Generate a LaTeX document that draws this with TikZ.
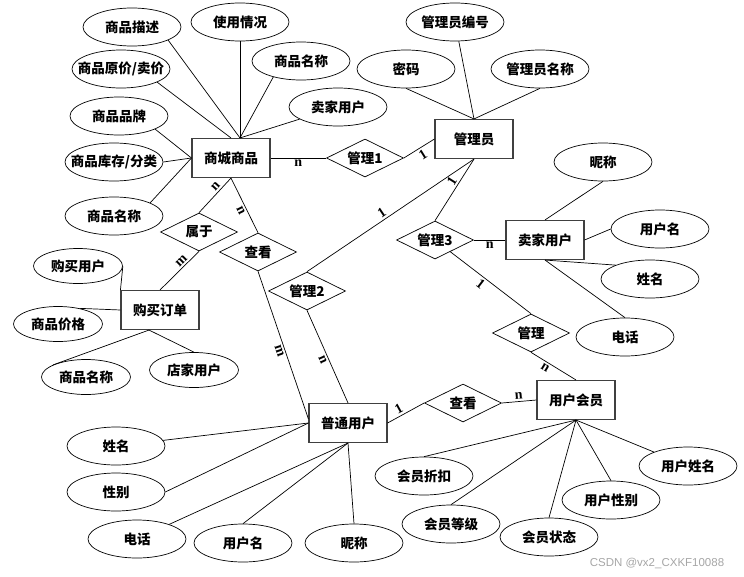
\documentclass[tikz,border=0pt]{standalone}
\usepackage{fontspec}
\newfontfamily\cjk{Noto Sans CJK SC}
\newfontfamily\numfont{Liberation Serif}
\newfontfamily\wmfont{Liberation Sans}
\usetikzlibrary{shapes.geometric}
\tikzset{
	ernode/.style = {font=\cjk\bfseries\fontsize{13.5}{16}\selectfont, text centered, inner sep=0pt},
	entity/.style = {rectangle, ernode, minimum width=78pt, minimum height=39pt, draw=black!75, line width=1.1pt},
	relation/.style = {diamond, ernode, aspect=2, minimum width=77pt, minimum height=38pt, draw=black, line width=.7pt},
	attr/.style = {ellipse, ernode, minimum width=98pt, minimum height=38pt, draw=black, line width=.7pt},
	smallattr/.style = {attr, minimum width=89pt, minimum height=35pt},
	link/.style = {draw, line width=.7pt},
	card/.style = {font=\numfont\bfseries\fontsize{14}{14}\selectfont, inner sep=2pt}
}
\newcommand{\wide}[1]{\makebox[0pt]{#1}}

\begin{document}
\begin{tikzpicture}[node distance=80pt]
		\useasboundingbox (0,0) rectangle (744pt,-576pt);
		%实体与联系
		\node (sp) [entity] at (231pt,-158pt) {商城商品};
		\node (gl1) [relation, right of=sp, xshift=54pt] {管理1};
		\node (gly) [entity, right of=gl1, xshift=29pt, yshift=19pt] {管理员};
		\node (gl3) [relation, below of=gly, xshift=-39pt, yshift=-21pt] {管理3};
		\node (mj) [entity, right of=gl3, xshift=30pt] {卖家用户};
		\node (gl) [relation, below of=gl3, xshift=96pt, yshift=-13pt] {管理};
		\node (hy) [entity, below of=gl, xshift=45pt, yshift=13pt] {用户会员};
		\node (ck2) [relation, left of=hy, xshift=-33pt, yshift=-3pt] {查看};
		\node (pt) [entity, left of=ck2, xshift=-35pt, yshift=-20pt] {普通用户};
		\node (gl2) [relation, above of=pt, xshift=-41pt, yshift=52pt] {管理2};
		\node (sy) [relation, below of=sp, xshift=-32pt, yshift=6pt] {属于};
		\node (ck1) [relation, below of=sp, xshift=27pt, yshift=-14pt] {查看};
		\node (dd) [entity, below of=sy, xshift=-39pt, yshift=2pt] {购买订单};

		%商城商品的属性
		\node (spms) [attr, above of=sp, xshift=-99pt, yshift=51pt] {商品描述};
		\node (syqk) [attr, above of=sp, xshift=9pt, yshift=56pt] {使用情况};
		\node (spmc1) [attr, above of=sp, xshift=70pt, yshift=17pt] {商品名称};
		\node (mjyh) [attr, above of=sp, xshift=107pt, yshift=-29pt] {卖家用户};
		\node (spyj) [attr, left of=sp, xshift=-30pt, yshift=89pt] {\wide{商品原价/卖价}};
		\node (sppp) [attr, left of=sp, xshift=-32pt, yshift=42pt] {商品品牌};
		\node (spkc) [attr, left of=sp, xshift=-37pt, yshift=-4pt] {\wide{商品库存/分类}};
		\node (spmc2) [attr, left of=sp, xshift=-37pt, yshift=-58pt] {商品名称};

		%管理员的属性
		\node (glybh) [attr, above of=gly, xshift=-19pt, yshift=37pt] {管理员编号};
		\node (mm) [attr, above of=gly, xshift=-68pt, yshift=-10pt] {密码};
		\node (glymc) [attr, above of=gly, xshift=66pt, yshift=-10pt] {管理员名称};

		%卖家用户的属性
		\node (nc1) [attr, above of=mj, xshift=58pt, yshift=-2pt] {昵称};
		\node (yhm1) [attr, right of=mj, xshift=35pt, yshift=11pt] {用户名};
		\node (xm1) [attr, right of=mj, xshift=25pt, yshift=-39pt] {姓名};
		\node (dh1) [attr, below of=mj, xshift=80pt, yshift=-17pt] {电话};

		%购买订单的属性
		\node (gmyh) [smallattr, left of=dd, xshift=-2pt, yshift=44pt] {购买用户};
		\node (spjg) [smallattr, left of=dd, xshift=-22pt, yshift=-14pt] {商品价格};
		\node (spmc3) [smallattr, below of=dd, xshift=-74pt, yshift=13pt] {商品名称};
		\node (djyh) [smallattr, below of=dd, xshift=34pt, yshift=20pt] {店家用户};

		%普通用户的属性
		\node (xm2) [attr, left of=pt, xshift=-152pt, yshift=-23pt] {姓名};
		\node (xb) [attr, left of=pt, xshift=-152pt, yshift=-69pt] {性别};
		\node (dh2) [attr, below of=pt, xshift=-211pt, yshift=-36pt] {电话};
		\node (yhm2) [attr, below of=pt, xshift=-105pt, yshift=-40pt] {用户名};
		\node (nc2) [attr, below of=pt, xshift=6pt, yshift=-40pt] {昵称};

		%用户会员的属性
		\node (hyzk) [attr, below of=hy, xshift=-152pt, yshift=4pt] {会员折扣};
		\node (hydj) [attr, below of=hy, xshift=-125pt, yshift=-44pt] {会员等级};
		\node (hyzt) [attr, below of=hy, xshift=-27pt, yshift=-57pt] {会员状态};
		\node (yhxb) [attr, below of=hy, xshift=35pt, yshift=-20pt] {用户性别};
		\node (yhxm) [attr, below of=hy, xshift=112pt, yshift=14pt] {用户姓名};

		\node (wm) [font=\wmfont\fontsize{11.5}{12}\selectfont, text=black!35] at (657pt,-563pt) {CSDN @vx2\_CXKF10088};

		\coordinate (sptop) at ([xshift=9pt]sp.north);
		\coordinate (ddbot) at ([xshift=-11pt]dd.south);
		\coordinate (ptleft) at ([yshift=4pt]pt.west);

		%属性连线
		\path [link] (spms.-20) -- (sptop);
		\path [link] (syqk.south) -- (sptop);
		\path [link] (spmc1.210) -- (sptop);
		\path [link] (mjyh) -- (sptop);
		\path [link] (spyj.-20) -- (sp.north);
		\path [link] (sppp.-20) -- (sp.west);
		\path [link] (spkc.east) -- (sp.west);
		\path [link] (spmc2.20) -- (sp.west);
		\path [link] (glybh) -- (gly.north);
		\path [link] (mm.south) -- (gly.north);
		\path [link] (glymc.south) -- (gly.north);
		\path [link] (nc1.south) -- (mj.north);
		\path [link] (yhm1.west) -- (mj.east);
		\path [link] (xm1.158) -- (mj.south);
		\path [link] (dh1.north) -- (mj.south);
		\path [link] (gmyh.east) -- (dd.north west);
		\path [link] (spjg.36) -- (dd.west);
		\path [link] (spmc3.160) -- (ddbot);
		\path [link] (djyh.north) -- (ddbot);
		\path [link] (xm2) -- (pt.west);
		\path [link] (xb.east) -- (pt.west);
		\path [link] (dh2) -- (pt.south);
		\path [link] (yhm2.north) -- (pt.south);
		\path [link] (nc2.north) -- (pt.south);
		\path [link] (hyzk.north) -- (hy.south);
		\path [link] (hydj.north) -- (hy.south);
		\path [link] (hyzt.north) -- (hy.south);
		\path [link] (yhxb.north) -- (hy.south);
		\path [link] (yhxm) -- (hy.south);

		%联系连线
		\path [link] (sp) -- node[card, below] {n} (gl1);
		\path [link] (gl1.east) -- node[card, sloped, below] {1} (gly.west);
		\path [link] (gly.south) -- node[card, sloped, above, pos=.42] {1} (gl3.north);
		\path [link] (gly.south) -- node[card, sloped, above, pos=.53] {1} (gl2.north);
		\path [link] (gl3) -- node[card, below] {n} (mj);
		\path [link] (gl3) -- node[card, sloped, below, pos=.43] {1} (gl.north);
		\path [link] (gl.south) -- node[card, sloped, below, pos=.38] {n} (hy.north);
		\path [link] (pt.east) -- node[card, sloped, above, pos=.4] {1} (ck2.west);
		\path [link] (ck2.east) -- node[card, sloped, above] {n} (hy.west);
		\path [link] (sp.south) -- node[card, sloped, above, pos=.35] {n} (sy.north);
		\path [link] (sp.south) -- node[card, sloped, below, pos=.55] {n} (ck1.north);
		\path [link] (sy.south) -- node[card, sloped, above, pos=.35] {m} (dd.north);
		\path [link] (ck1.south) -- node[card, sloped, below, pos=.53] {m} (ptleft);
		\path [link] (gl2.south) -- node[card, sloped, below, pos=.51] {n} (pt.north);
\end{tikzpicture}
\end{document}
